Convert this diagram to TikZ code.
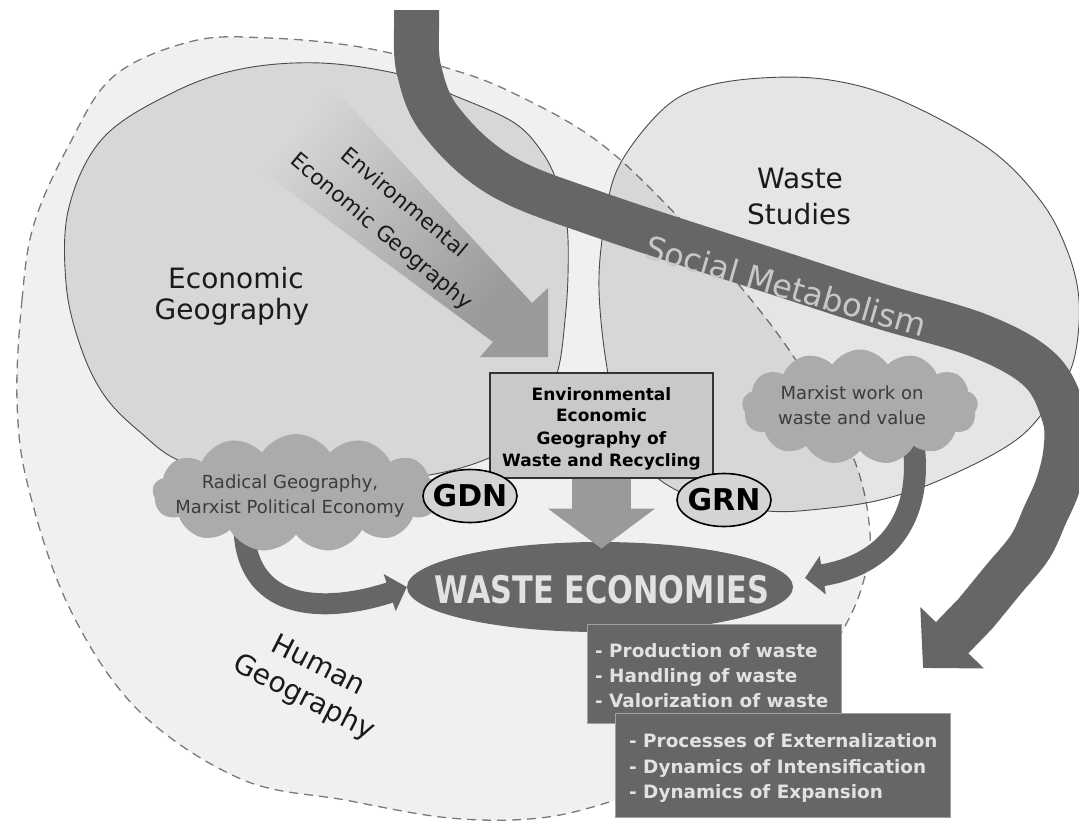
\documentclass[tikz,border=0pt]{standalone}
\usepackage{fontspec}
\setmainfont{DejaVu Sans}
\newfontfamily\wefont[FakeStretch=0.8]{DejaVu Sans}
\usetikzlibrary{arrows.meta,shapes.geometric,shapes.symbols}
\definecolor{hgfill}{HTML}{F0F0F0}
\definecolor{dashc}{HTML}{7A7A7A}
\definecolor{outl}{HTML}{4A4A4A}
\definecolor{egbg}{HTML}{D8D8D8}
\definecolor{envg}{HTML}{9A9A9A}
\definecolor{dk}{HTML}{666666}
\definecolor{smtext}{HTML}{C8C8C8}
\definecolor{cloudc}{HTML}{ABABAB}
\definecolor{boxf}{HTML}{C9C9C9}
\definecolor{boxb}{HTML}{333333}
\definecolor{gdnc}{HTML}{D4D4D4}
\definecolor{lt}{HTML}{E2E2E2}
\definecolor{txt}{HTML}{1A1A1A}
\definecolor{boxedge}{HTML}{A0A0A0}
\begin{document}
\begin{tikzpicture}[x=1pt,y=-1pt,
  region/.style={fill=black, fill opacity=0.1, draw=outl, draw opacity=1, line width=0.9pt},
  bigtxt/.style={inner sep=0pt, text=txt, font=\fontsize{28}{32}\selectfont},
  envtxt/.style={inner sep=0pt, text=txt, rotate=-40, font=\fontsize{21.5}{24}\selectfont},
  cloudtxt/.style={inner sep=0pt, text=txt!85, font=\fontsize{18}{22}\selectfont, anchor=base},
  eegtxt/.style={inner sep=0pt, text=black, font=\bfseries\fontsize{17}{22}\selectfont, anchor=base},
  listtxt/.style={inner sep=0pt, text=lt, font=\bfseries\fontsize{18.4}{22}\selectfont, anchor=base west},
  puff/.style={cloud, cloud puffs=13, cloud puff arc=115, fill=cloudc, inner sep=0pt},
  tag/.style={ellipse, draw=black, line width=1.6pt, fill=gdnc, minimum width=94pt, minimum height=53pt, inner sep=0pt},
  tagtxt/.style={inner sep=0pt, font=\bfseries\fontsize{30}{30}\selectfont},
  darkbox/.style={rectangle, fill=dk, draw=boxedge, line width=0.8pt, inner sep=0pt},
  thick arrow/.style={draw=dk, line width=#1},
]
\useasboundingbox (0,0) rectangle (1079,823);
\fill[white] (0,0) rectangle (1079,823);

% Human Geography (dashed region)
\path[fill=hgfill, draw=dashc, line width=1.3pt, dash pattern=on 9pt off 6pt]
  plot[smooth cycle, tension=0.6] coordinates {(17,400) (22,300) (34,224) (69,145) (114,76) (193,41) (269,38) (360,47) (447,68) (513,93) (600,143) (684,223) (753,302) (801,368) (853,457) (870,533) (863,583) (843,630) (800,700) (700,770) (616,800) (540,818) (450,818) (345,800) (241,779) (138,710) (69,607) (28,486)};

% Economic Geography
\path[region] plot[smooth cycle, tension=0.6] coordinates {(66,283) (69,207) (103,138) (172,93) (241,69) (321,63) (403,75) (453,95) (513,122) (542,152) (558,185) (567,225) (568,275) (565,320) (558,370) (540,415) (505,450) (440,473) (350,482) (260,476) (183,462) (140,432) (104,395) (80,345)};

% Waste Studies
\path[region] plot[smooth cycle, tension=0.6] coordinates {(599,290) (605,220) (619,166) (660,112) (700,88) (761,78) (830,80) (900,100) (988,148) (1040,200) (1067,250) (1079,300) (1075,355) (1060,387) (1020,437) (947,477) (880,500) (810,510) (767,511) (710,503) (660,480) (628,440) (609,379)};

\node[bigtxt, anchor=base] (eg1) at (236,288) {Economic};
\node[bigtxt, anchor=base] (eg2) at (232,319) {Geography};
\node[bigtxt, anchor=base] (ws1) at (800,188) {Waste};
\node[bigtxt, anchor=base] (ws2) at (799,224) {Studies};
\node[bigtxt, rotate=-27] (hg1) at (319,664) {Human};
\node[bigtxt, rotate=-27] (hg2) at (304,698) {Geography};

% Environmental Economic Geography arrow
\shade[top color=egbg, bottom color=envg, shading angle=50] (333,88) -- (532,303) -- (493,342) -- (250,162) -- cycle;
\fill[envg] (532,303) -- (548,288) -- (548,357) -- (480,357) -- (493,342) -- cycle;
\node[envtxt] (env1) at (405,202) {Environmental};
\node[envtxt] (env2) at (381,232) {Economic Geography};

% Social Metabolism band
\coordinate (smtop) at (416.5,10);
\coordinate (smtip) at (923,668);
\draw[thick arrow=45pt, -{Triangle[length=42pt,width=86pt]}]
  (smtop) -- plot[smooth, tension=0.6] coordinates {(416.5,30) (419,70) (440,120) (500,175) (600,215) (781,274) (880,306) (980,336) (1040,370) (1064,415) (1066,450) (1058,485) (1045,515) (1030,547) (1003,580) (976,613)} -- (smtip);
\node[inner sep=0pt, text=smtext, rotate=-16, font=\fontsize{32}{36}\selectfont] (sm) at (786,286) {Social Metabolism};

% WASTE ECONOMIES
\node[ellipse, fill=dk, minimum width=386pt, minimum height=90pt, inner sep=0pt] (we) at (600,587) {};

% arrows from clouds
\coordinate (rgout) at (244,530);
\draw[thick arrow=21pt, -{Triangle[length=18pt,width=38pt]}] (rgout) .. controls (248,615) and (330,612) .. (we.west);
\coordinate (mwout) at (913,440);
\coordinate (mwin) at (805,578);
\draw[thick arrow=22pt, -{Triangle[length=18pt,width=38pt]}] (mwout) .. controls (925,525) and (880,566) .. (mwin);

% clouds
\node[puff, aspect=2.4, minimum width=287pt, minimum height=118pt] (rg) at (296,493) {};
\node[cloudtxt] (rg1) at (290,488) {Radical Geography,};
\node[cloudtxt] (rg2) at (290,513) {Marxist Political Economy};
\node[puff, aspect=2.05, minimum width=236pt, minimum height=115pt] (mw) at (860,407) {};
\node[cloudtxt] (mw1) at (852,399) {Marxist work on};
\node[cloudtxt] (mw2) at (852,424) {waste and value};

% central box
\node[rectangle, draw=boxb, line width=1.2pt, fill=boxf, minimum width=223pt, minimum height=105pt, inner sep=0pt] (eeg) at (601.5,425.5) {};
\node[eegtxt] (e1) at (601.5,400) {Environmental};
\node[eegtxt] (e2) at (601.5,421.5) {Economic};
\node[eegtxt] (e3) at (601.5,444) {Geography of};
\node[eegtxt] (e4) at (601.5,466) {Waste and Recycling};
\draw[draw=envg, line width=59pt, -{Triangle[length=40pt,width=105pt]}] (eeg.south) -- ++(0,70);

\node[inner sep=0pt, text=lt, font=\wefont\bfseries\fontsize{38}{40}\selectfont] (wet) at (602,590) {WASTE ECONOMIES};

% GDN / GRN
\node[tag] (gdn) at (470,496) {};
\node[tagtxt] (gdnt) at (gdn.center) {GDN};
\node[tag] (grn) at (724,500) {};
\node[tagtxt] (grnt) at (grn.center) {GRN};

% bottom boxes
\node[darkbox, minimum width=254pt, minimum height=99pt] (b1) at (714,673.5) {};
\node[listtxt] (l1) at (595,657) {- Production of waste};
\node[listtxt] (l2) at (595,682) {- Handling of waste};
\node[listtxt] (l3) at (595,707) {- Valorization of waste};
\node[darkbox, minimum width=335pt, minimum height=104pt] (b2) at (782.5,765) {};
\node[listtxt] (l4) at (629,747.5) {- Processes of Externalization};
\node[listtxt] (l5) at (629,773) {- Dynamics of Intensification};
\node[listtxt] (l6) at (629,798) {- Dynamics of Expansion};
\end{tikzpicture}
\end{document}
